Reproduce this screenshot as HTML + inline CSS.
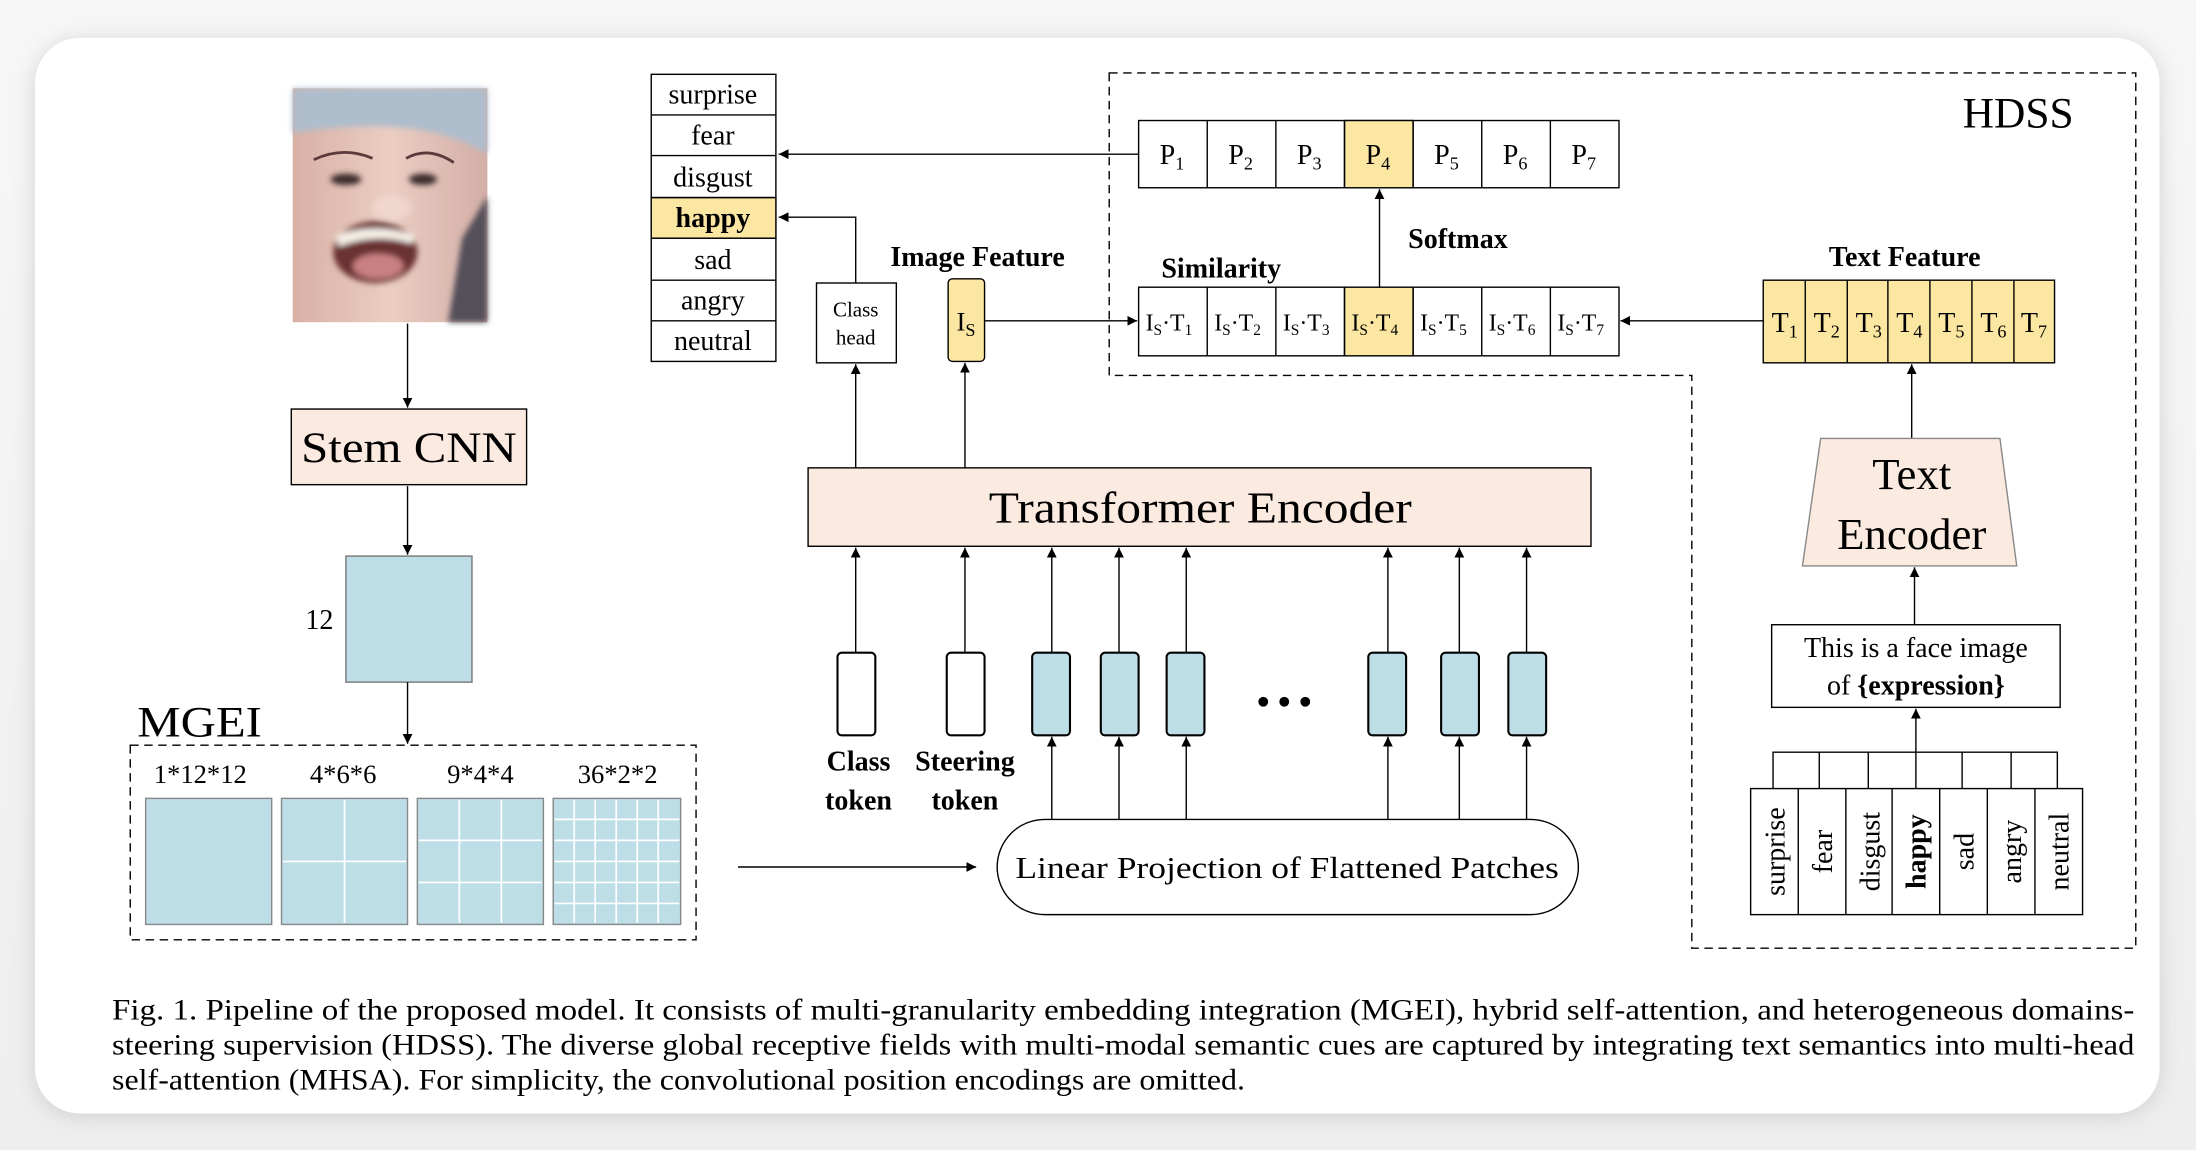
<!DOCTYPE html>
<html><head><meta charset="utf-8"><style>
html,body{margin:0;padding:0;background:#efefef;}
svg{display:block}
text{font-family:"Liberation Serif",serif;fill:#000}
.b{font-weight:bold}
</style></head><body>
<svg width="2196" height="1150" viewBox="0 0 1568 821" xmlns="http://www.w3.org/2000/svg">
<defs>
<marker id="a" viewBox="0 0 10 10" refX="10" refY="5" markerWidth="7" markerHeight="7" orient="auto-start-reverse" markerUnits="userSpaceOnUse"><path d="M0,0 L10,5 L0,10 z" fill="#000"/></marker>
<filter id="sh" x="-5%" y="-5%" width="110%" height="110%"><feGaussianBlur stdDeviation="8"/></filter>
<filter id="bl"><feGaussianBlur stdDeviation="2"/></filter>
<linearGradient id="bg" x1="0" y1="0" x2="0" y2="1"><stop offset="0" stop-color="#f7f7f7"/><stop offset="1" stop-color="#eeeeee"/></linearGradient>
<linearGradient id="skin" x1="0" y1="0" x2="1" y2="0"><stop offset="0" stop-color="#d8b0a6"/><stop offset="0.5" stop-color="#ebcdc2"/><stop offset="1" stop-color="#d2aea6"/></linearGradient>
</defs>
<rect width="1568" height="821" fill="url(#bg)"/>
<rect x="25" y="29" width="1517" height="768" rx="32" fill="#bbb" filter="url(#sh)" opacity="0.6"/>
<rect x="25" y="27" width="1517" height="768" rx="32" fill="#fff"/>

<g stroke="#000" stroke-width="1" fill="none">
<!-- face -->
<rect x="209" y="63" width="139" height="167" fill="url(#skin)" stroke="none"/>
<g filter="url(#bl)" stroke="none">
<path d="M209 63 H348 V110 Q300 80 209 95 Z" fill="#aebdcc"/>
<path d="M330 170 L348 140 V230 H320 Z" fill="#55505a"/>
<ellipse cx="268" cy="180" rx="30" ry="22" fill="#6a3030"/>
<path d="M240 168 Q268 158 296 168 L294 174 Q268 166 242 176Z" fill="#f3eee6"/>
<ellipse cx="270" cy="190" rx="18" ry="9" fill="#c98080"/>
<ellipse cx="247" cy="128" rx="11" ry="4" fill="#3a2a2a"/>
<ellipse cx="302" cy="128" rx="10" ry="4" fill="#3a2a2a"/>
<ellipse cx="280" cy="148" rx="14" ry="9" fill="#f0d6cc"/>
</g>
<path d="M224 114 Q245 104 266 113" stroke="#5a3a3a" stroke-width="2"/>
<path d="M290 113 Q306 104 324 116" stroke="#5a3a3a" stroke-width="2"/>

<line x1="291" y1="231" x2="291" y2="291" marker-end="url(#a)"/>
<rect x="208" y="292" width="168" height="54" fill="#fbeadf"/>
<line x1="291" y1="347" x2="291" y2="396" marker-end="url(#a)"/>
<rect x="247" y="397" width="90" height="90" fill="#bddde7" stroke="#777"/>
<line x1="291" y1="487" x2="291" y2="531" marker-end="url(#a)"/>
<rect x="93" y="532" width="404" height="139" stroke-dasharray="6,4"/>
<g fill="#bddde7" stroke="#888">
<rect x="104" y="570" width="90" height="90"/>
<rect x="201" y="570" width="90" height="90"/>
<rect x="298" y="570" width="90" height="90"/>
<rect x="395" y="570" width="91" height="90"/>
</g>
<g stroke="#fff" stroke-width="1.2">
<line x1="246" y1="571" x2="246" y2="659"/><line x1="202" y1="615" x2="290" y2="615"/>
<line x1="328" y1="571" x2="328" y2="659"/><line x1="358" y1="571" x2="358" y2="659"/>
<line x1="299" y1="600" x2="387" y2="600"/><line x1="299" y1="630" x2="387" y2="630"/>
<line x1="410" y1="571" x2="410" y2="659"/><line x1="425" y1="571" x2="425" y2="659"/><line x1="440" y1="571" x2="440" y2="659"/><line x1="455" y1="571" x2="455" y2="659"/><line x1="470" y1="571" x2="470" y2="659"/>
<line x1="396" y1="585" x2="485" y2="585"/><line x1="396" y1="600" x2="485" y2="600"/><line x1="396" y1="615" x2="485" y2="615"/><line x1="396" y1="630" x2="485" y2="630"/><line x1="396" y1="645" x2="485" y2="645"/>
</g>
<line x1="527" y1="619" x2="697" y2="619" marker-end="url(#a)"/>
<rect x="712" y="585" width="415" height="68" rx="34" fill="#fff"/>

<g stroke-width="1.5">
<rect x="598" y="466" width="27" height="59" rx="3" fill="#fff"/>
<rect x="676" y="466" width="27" height="59" rx="3" fill="#fff"/>
<rect x="737" y="466" width="27" height="59" rx="3" fill="#bddde7"/>
<rect x="786" y="466" width="27" height="59" rx="3" fill="#bddde7"/>
<rect x="833" y="466" width="27" height="59" rx="3" fill="#bddde7"/>
<rect x="977" y="466" width="27" height="59" rx="3" fill="#bddde7"/>
<rect x="1029" y="466" width="27" height="59" rx="3" fill="#bddde7"/>
<rect x="1077" y="466" width="27" height="59" rx="3" fill="#bddde7"/>
</g>
<g marker-end="url(#a)">
<line x1="611" y1="466" x2="611" y2="391"/><line x1="689" y1="466" x2="689" y2="391"/>
<line x1="751" y1="466" x2="751" y2="391"/><line x1="799" y1="466" x2="799" y2="391"/><line x1="847" y1="466" x2="847" y2="391"/>
<line x1="991" y1="466" x2="991" y2="391"/><line x1="1042" y1="466" x2="1042" y2="391"/><line x1="1090" y1="466" x2="1090" y2="391"/>
<line x1="751" y1="585" x2="751" y2="526"/><line x1="799" y1="585" x2="799" y2="526"/><line x1="847" y1="585" x2="847" y2="526"/>
<line x1="991" y1="585" x2="991" y2="526"/><line x1="1042" y1="585" x2="1042" y2="526"/><line x1="1090" y1="585" x2="1090" y2="526"/>
</g>
<rect x="577" y="334" width="559" height="56" fill="#fbeadf"/>
<line x1="611" y1="334" x2="611" y2="260" marker-end="url(#a)"/>
<line x1="689" y1="334" x2="689" y2="259" marker-end="url(#a)"/>
<rect x="583" y="202" width="57" height="57" fill="#fff"/>
<rect x="677" y="199" width="26" height="59" rx="3" fill="#fbe6a2"/>
<polyline points="611,202 611,155 556,155" marker-end="url(#a)"/>
<line x1="813" y1="110" x2="556" y2="110" marker-end="url(#a)"/>
<line x1="703" y1="229" x2="812" y2="229" marker-end="url(#a)"/>
<rect x="465" y="53" width="89" height="205" fill="#fff"/>
<rect x="465" y="141" width="89" height="29" fill="#fbe6a2"/>
<line x1="465" y1="82" x2="554" y2="82"/><line x1="465" y1="111" x2="554" y2="111"/><line x1="465" y1="141" x2="554" y2="141"/><line x1="465" y1="170" x2="554" y2="170"/><line x1="465" y1="200" x2="554" y2="200"/><line x1="465" y1="229" x2="554" y2="229"/>
<path d="M792 52 H1525 V677 H1208 V268 H792 Z" stroke-dasharray="6,4"/>
<rect x="813" y="86" width="343" height="48" fill="#fff"/>
<rect x="960" y="86" width="49" height="48" fill="#fbe6a2"/>
<line x1="862" y1="86" x2="862" y2="134"/><line x1="911" y1="86" x2="911" y2="134"/><line x1="960" y1="86" x2="960" y2="134"/><line x1="1009" y1="86" x2="1009" y2="134"/><line x1="1058" y1="86" x2="1058" y2="134"/><line x1="1107" y1="86" x2="1107" y2="134"/>
<rect x="813" y="205" width="343" height="49" fill="#fff"/>
<rect x="960" y="205" width="49" height="49" fill="#fbe6a2"/>
<line x1="862" y1="205" x2="862" y2="254"/><line x1="911" y1="205" x2="911" y2="254"/><line x1="960" y1="205" x2="960" y2="254"/><line x1="1009" y1="205" x2="1009" y2="254"/><line x1="1058" y1="205" x2="1058" y2="254"/><line x1="1107" y1="205" x2="1107" y2="254"/>
<line x1="985" y1="205" x2="985" y2="135" marker-end="url(#a)"/>
<rect x="1259" y="200" width="208" height="59" fill="#fbe6a2"/>
<line x1="1289" y1="200" x2="1289" y2="259"/><line x1="1319" y1="200" x2="1319" y2="259"/><line x1="1348" y1="200" x2="1348" y2="259"/><line x1="1378" y1="200" x2="1378" y2="259"/><line x1="1408" y1="200" x2="1408" y2="259"/><line x1="1438" y1="200" x2="1438" y2="259"/>
<line x1="1259" y1="229" x2="1157" y2="229" marker-end="url(#a)"/>
<line x1="1365" y1="313" x2="1365" y2="260" marker-end="url(#a)"/>
<polygon points="1300,313 1428,313 1440,404 1287,404" fill="#fbeadf" stroke="#888"/>
<line x1="1367" y1="446" x2="1367" y2="405" marker-end="url(#a)"/>
<rect x="1265" y="446" width="206" height="59" fill="#fff"/>
<line x1="1368" y1="563" x2="1368" y2="506" marker-end="url(#a)"/>
<polyline points="1266,563 1266,537 1469,537 1469,563"/>
<line x1="1299" y1="537" x2="1299" y2="563"/><line x1="1334" y1="537" x2="1334" y2="563"/><line x1="1401" y1="537" x2="1401" y2="563"/><line x1="1436" y1="537" x2="1436" y2="563"/>
<rect x="1250" y="563" width="237" height="90" fill="#fff"/>
<line x1="1284" y1="563" x2="1284" y2="653"/><line x1="1318" y1="563" x2="1318" y2="653"/><line x1="1351" y1="563" x2="1351" y2="653"/><line x1="1385" y1="563" x2="1385" y2="653"/><line x1="1419" y1="563" x2="1419" y2="653"/><line x1="1453" y1="563" x2="1453" y2="653"/>
</g>
<circle cx="902" cy="501" r="3.5"/><circle cx="917" cy="501" r="3.5"/><circle cx="932" cy="501" r="3.5"/>

<text x="292" y="330" font-size="31" text-anchor="middle" textLength="154" lengthAdjust="spacingAndGlyphs">Stem CNN</text>
<text x="228" y="449" font-size="20" text-anchor="middle">12</text>
<text x="98" y="526" font-size="31" textLength="89" lengthAdjust="spacingAndGlyphs">MGEI</text>
<g font-size="19" text-anchor="middle">
<text x="143" y="559">1*12*12</text><text x="245" y="559">4*6*6</text><text x="343" y="559">9*4*4</text><text x="441" y="559">36*2*2</text>
</g>
<text x="919" y="627" font-size="22" text-anchor="middle" textLength="388" lengthAdjust="spacingAndGlyphs">Linear Projection of Flattened Patches</text>
<g font-size="20">
<text x="613" y="550" text-anchor="middle" class="b">Class</text>
<text x="689" y="550" text-anchor="middle" class="b">Steering</text>
<text x="613" y="578" text-anchor="middle" class="b">token</text>
<text x="689" y="578" text-anchor="middle" class="b">token</text>
</g>
<text x="857" y="373" font-size="32" text-anchor="middle" textLength="302" lengthAdjust="spacingAndGlyphs">Transformer Encoder</text>
<text x="611" y="226" font-size="15" text-anchor="middle">Class</text>
<text x="611" y="246" font-size="15" text-anchor="middle">head</text>
<text x="683" y="236" font-size="19">I<tspan font-size="13" dy="4">S</tspan></text>
<text x="698" y="190" font-size="20" class="b" text-anchor="middle">Image Feature</text>
<g font-size="20" text-anchor="middle">
<text x="509" y="74">surprise</text><text x="509" y="103">fear</text><text x="509" y="133">disgust</text>
<text x="509" y="162" class="b">happy</text><text x="509" y="192">sad</text><text x="509" y="221">angry</text><text x="509" y="250">neutral</text>
</g>
<text x="1441" y="91" font-size="31" text-anchor="middle">HDSS</text>
<g font-size="20">
<text x="828" y="117">P<tspan font-size="13" dy="4">1</tspan></text>
<text x="877" y="117">P<tspan font-size="13" dy="4">2</tspan></text>
<text x="926" y="117">P<tspan font-size="13" dy="4">3</tspan></text>
<text x="975" y="117">P<tspan font-size="13" dy="4">4</tspan></text>
<text x="1024" y="117">P<tspan font-size="13" dy="4">5</tspan></text>
<text x="1073" y="117">P<tspan font-size="13" dy="4">6</tspan></text>
<text x="1122" y="117">P<tspan font-size="13" dy="4">7</tspan></text>
</g>
<text x="872" y="198" font-size="20" class="b" text-anchor="middle">Similarity</text>
<text x="1041" y="177" font-size="20" class="b" text-anchor="middle">Softmax</text>
<g font-size="17">
<text x="818" y="236">I<tspan font-size="11" dy="3">S</tspan><tspan dy="-3">·T</tspan><tspan font-size="11" dy="3">1</tspan></text>
<text x="867" y="236">I<tspan font-size="11" dy="3">S</tspan><tspan dy="-3">·T</tspan><tspan font-size="11" dy="3">2</tspan></text>
<text x="916" y="236">I<tspan font-size="11" dy="3">S</tspan><tspan dy="-3">·T</tspan><tspan font-size="11" dy="3">3</tspan></text>
<text x="965" y="236">I<tspan font-size="11" dy="3">S</tspan><tspan dy="-3">·T</tspan><tspan font-size="11" dy="3">4</tspan></text>
<text x="1014" y="236">I<tspan font-size="11" dy="3">S</tspan><tspan dy="-3">·T</tspan><tspan font-size="11" dy="3">5</tspan></text>
<text x="1063" y="236">I<tspan font-size="11" dy="3">S</tspan><tspan dy="-3">·T</tspan><tspan font-size="11" dy="3">6</tspan></text>
<text x="1112" y="236">I<tspan font-size="11" dy="3">S</tspan><tspan dy="-3">·T</tspan><tspan font-size="11" dy="3">7</tspan></text>
</g>
<text x="1360" y="190" font-size="20" class="b" text-anchor="middle">Text Feature</text>
<g font-size="20">
<text x="1265" y="237">T<tspan font-size="13" dy="4">1</tspan></text>
<text x="1295" y="237">T<tspan font-size="13" dy="4">2</tspan></text>
<text x="1325" y="237">T<tspan font-size="13" dy="4">3</tspan></text>
<text x="1354" y="237">T<tspan font-size="13" dy="4">4</tspan></text>
<text x="1384" y="237">T<tspan font-size="13" dy="4">5</tspan></text>
<text x="1414" y="237">T<tspan font-size="13" dy="4">6</tspan></text>
<text x="1443" y="237">T<tspan font-size="13" dy="4">7</tspan></text>
</g>
<text x="1365" y="349" font-size="32" text-anchor="middle">Text</text>
<text x="1365" y="392" font-size="32" text-anchor="middle">Encoder</text>
<text x="1368" y="469" font-size="20" text-anchor="middle">This is a face image</text>
<text x="1368" y="496" font-size="20" text-anchor="middle">of <tspan class="b">{expression}</tspan></text>
<g font-size="20" text-anchor="middle">
<text transform="translate(1274,608) rotate(-90)">surprise</text>
<text transform="translate(1308,608) rotate(-90)">fear</text>
<text transform="translate(1342,608) rotate(-90)">disgust</text>
<text transform="translate(1375,608) rotate(-90)" class="b">happy</text>
<text transform="translate(1409,608) rotate(-90)">sad</text>
<text transform="translate(1443,608) rotate(-90)">angry</text>
<text transform="translate(1477,608) rotate(-90)">neutral</text>
</g>
<g font-size="21">
<text x="80" y="728" textLength="1444" lengthAdjust="spacingAndGlyphs">Fig. 1.  Pipeline of the proposed model. It consists of multi-granularity embedding integration (MGEI), hybrid self-attention, and heterogeneous domains-</text>
<text x="80" y="753" textLength="1444" lengthAdjust="spacingAndGlyphs">steering supervision (HDSS). The diverse global receptive fields with multi-modal semantic cues are captured by integrating text semantics into multi-head</text>
<text x="80" y="778" textLength="809" lengthAdjust="spacingAndGlyphs">self-attention (MHSA). For simplicity, the convolutional position encodings are omitted.</text>
</g>
</svg>
</body></html>
